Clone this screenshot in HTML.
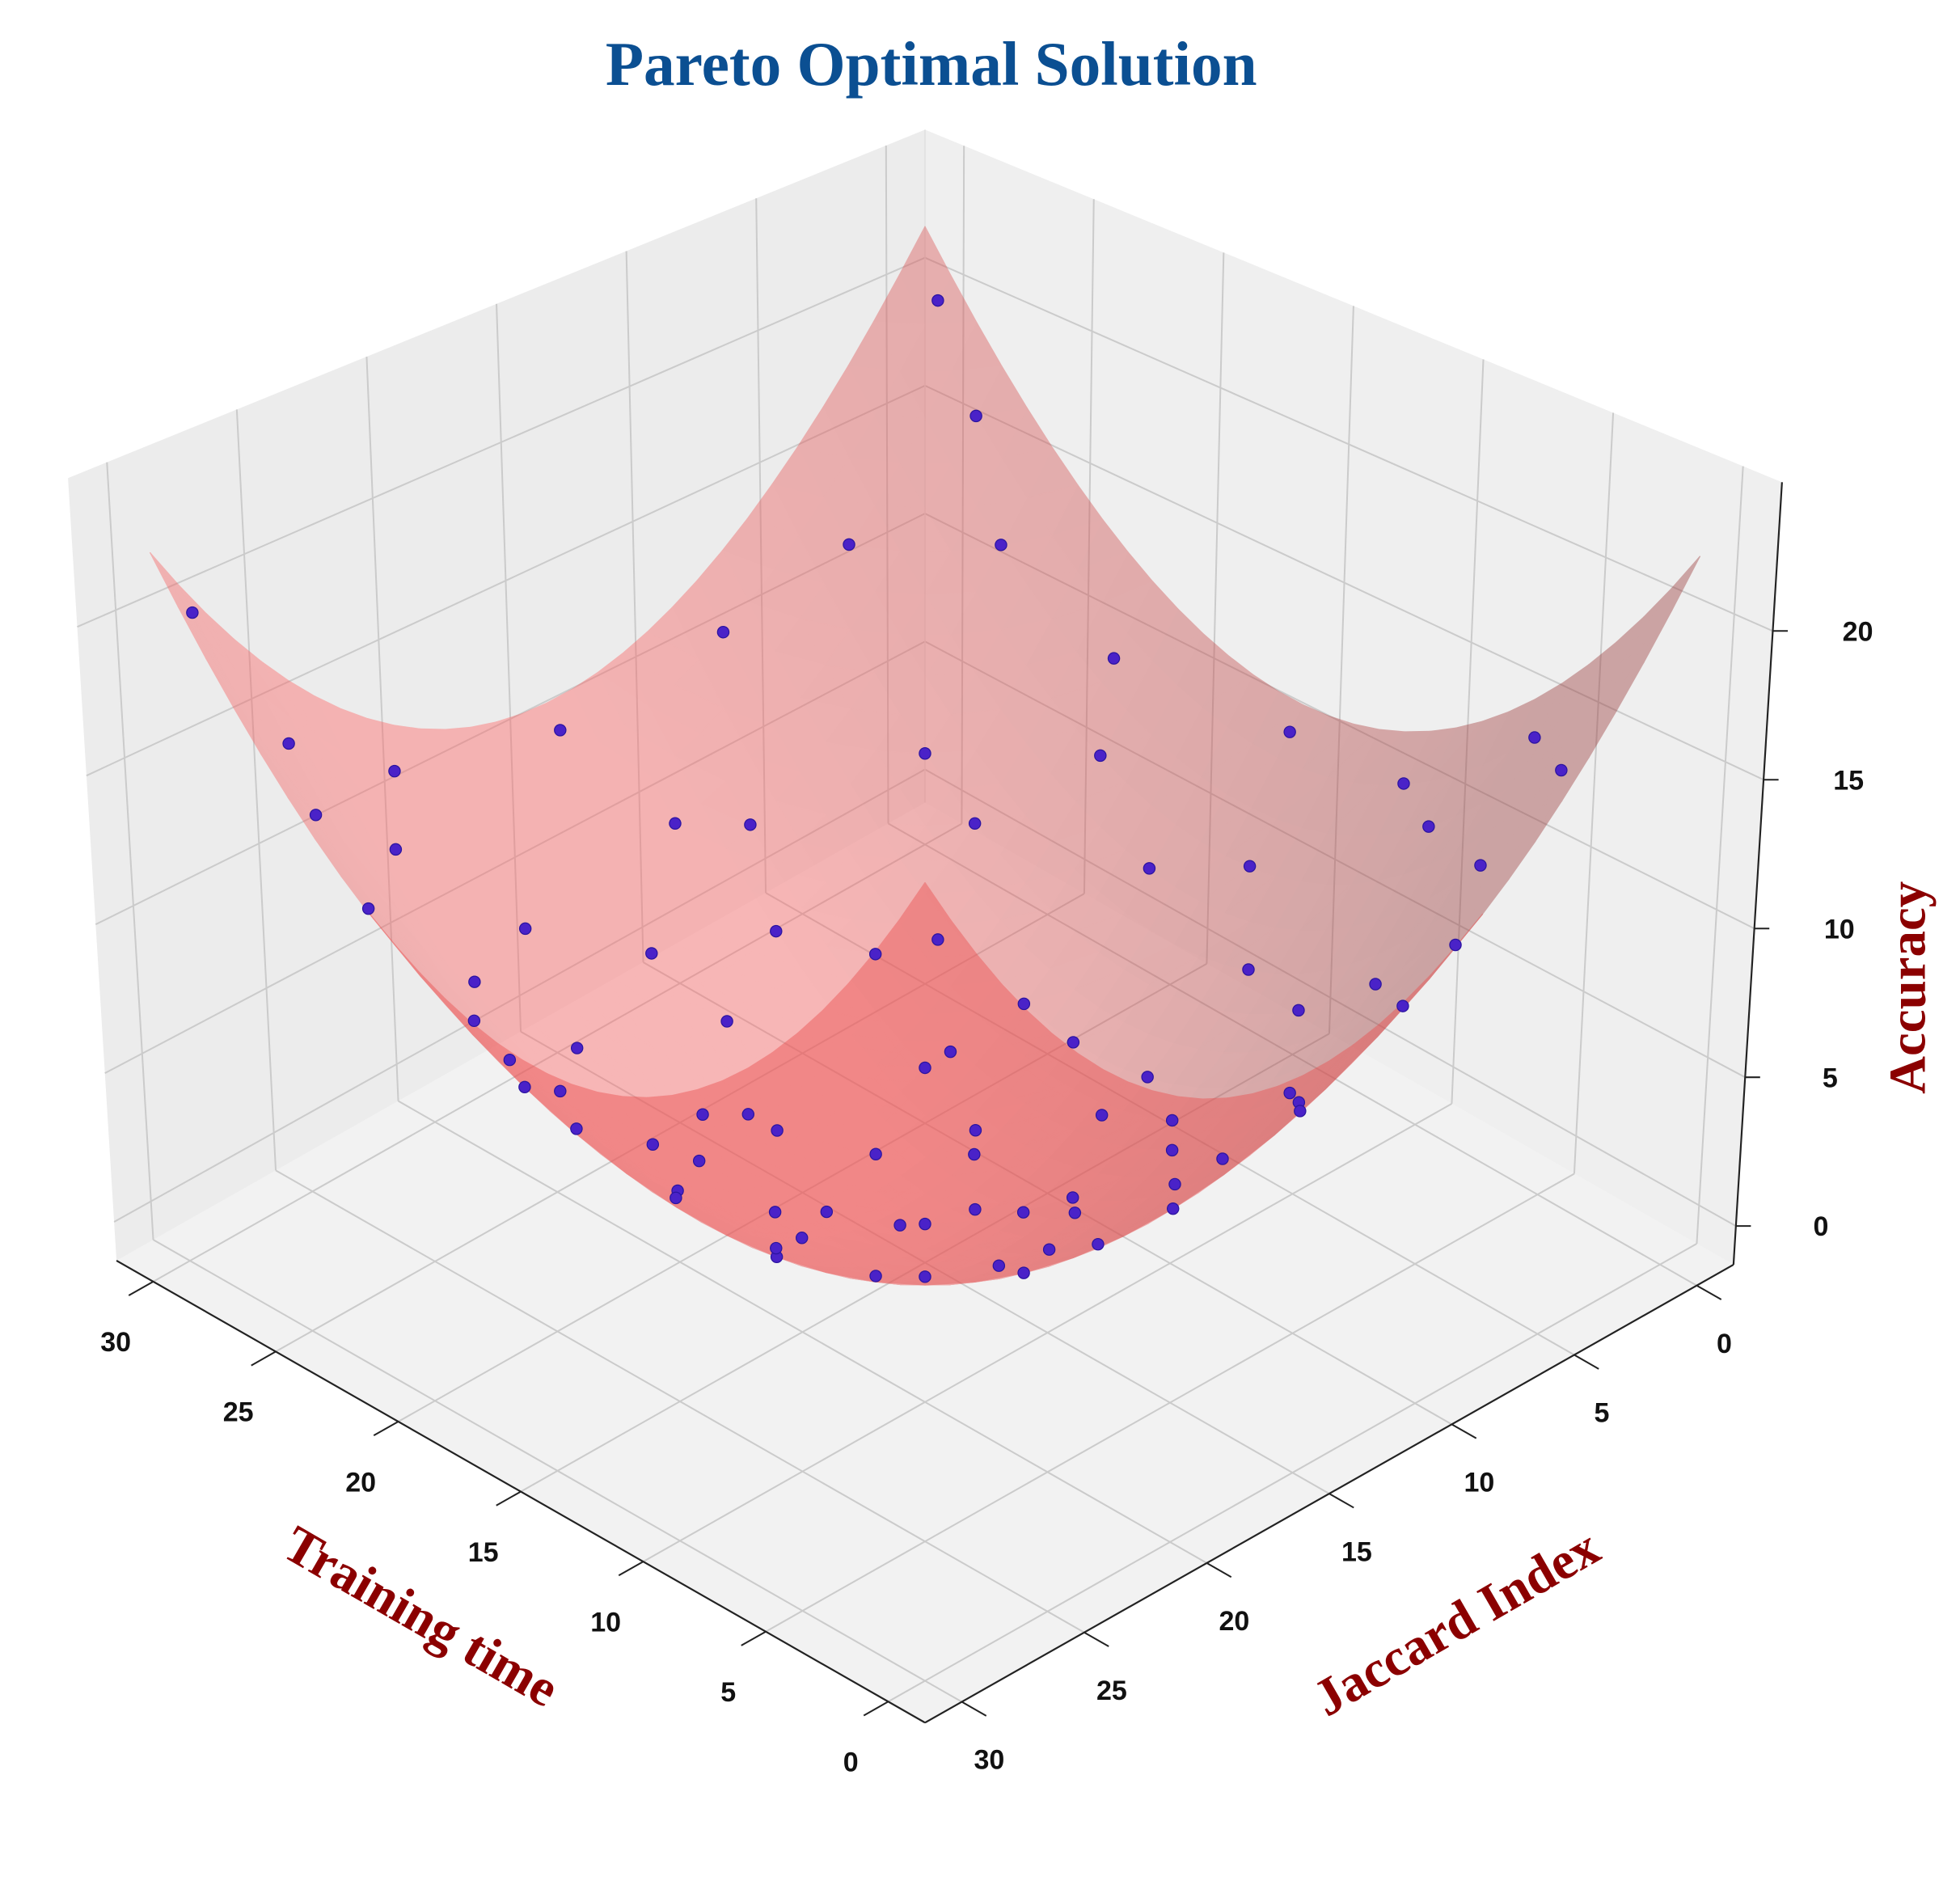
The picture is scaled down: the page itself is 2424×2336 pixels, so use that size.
<!DOCTYPE html>
<html><head><meta charset="utf-8"><style>
html,body{margin:0;padding:0;background:#fff;}
svg{display:block;}
</style></head><body>
<svg id="chart" width="2424" height="2336" viewBox="0 0 1568 1511" xmlns="http://www.w3.org/2000/svg">
<text x="745" y="68" text-anchor="middle" font-family="Liberation Serif, serif" font-weight="bold" font-size="50" fill="#0b4f92">Pareto Optimal Solution</text>
<g id="panes"></g><g id="grid"></g><g id="axes"></g><g id="surf"></g><g id="pts"></g>
<text transform="translate(330,1305) rotate(30)" text-anchor="middle" font-family="Liberation Serif, serif" font-weight="bold" font-size="42" fill="#8b0000">Training time</text>
<text transform="translate(1172,1310) rotate(-30)" text-anchor="middle" font-family="Liberation Serif, serif" font-weight="bold" font-size="42" fill="#8b0000">Jaccard Index</text>
<text transform="translate(1540,790) rotate(-90)" text-anchor="middle" font-family="Liberation Serif, serif" font-weight="bold" font-size="42" fill="#8b0000">Accuracy</text>
</svg>
<script>
const xTicks=[0,5,10,15,20,25,30];
const yTicks=[0,5,10,15,20,25,30];
const zTicks=[0,5,10,15,20];
const ptX=[2,5,1,3,6,8,10,12,4,2,7,9,11,14,15,16,18,20,22,25,28,27,29,0.5,29.5,28,24,26,21,19,23,17,13,18,12,6,3,1,0.5,15,15,29.5,10,8,5,20,23,26,29,24,21,17,13,9,4,7,11,14,18,22,27,25,19,16,12,6,2,10,27,23,16,8,13,17,20,5,26,29,22,3,14,9,24,11,19];
const ptY=[3,1,8,12,6,2,10,5,20,27,24,17,28,22,15,12,8,3,10,2,5,1,0.5,29,29,27,24,20,18,25,29,29.5,19,14,12,14,17,22,15,0.5,29.5,15,26,29,23,21,15,11,9,6,1.5,4,8,6,4,11,16,26,22,26,24,16,11,19,24,19,9,1,13,21,8,15,13,17,16,10,28,22,6,25,3,21,12,9,27];
const ptZ=[15.7,14.8,12.3,7.7,8.1,10.9,2.5,5.5,7.3,15.7,7.3,2.0,9.3,2.5,0,0.5,2.9,8.5,3.7,13.5,13.5,17,20.3,20.3,20.3,15.7,8.1,7.3,2.3,5.8,13,10.7,1,0.5,0.9,4.1,7.4,12.3,10.5,10.5,10.5,10.5,7.3,12.3,8.2,3.1,3.2,6.9,11.6,8.1,10.9,6.3,2.7,5.9,12.1,4,0.9,6.1,2.9,8.5,11.3,5.1,1.6,0.9,4.5,4.9,10.3,11.1,7.4,5,2.5,2.5,0.4,0.4,1.3,6.3,14.5,12.3,6.5,12.2,7.3,3.6,4.5,2.6,8];
const XMIN=-1.5,XMAX=31.5,YMIN=-1.5,YMAX=31.5,ZMIN=-1.3,ZMAX=25;
const NS='http://www.w3.org/2000/svg';
const C0=[740,1010],EX=[-19.6,-11.2],EY=[-19.6,11.1],ZU=23.8;
function P(x,y,z){
  const fx=C0[0]+EX[0]*(x-15)+EY[0]*(y-15);
  const fy=C0[1]+EX[1]*(x-15)+EY[1]*(y-15);
  const s=1+0.14*(y-x)/33;
  const h=(z-ZMIN)*ZU*s;
  const sp=1+0.06*(z-ZMIN)/(ZMAX-ZMIN);
  return [740+(fx-740)*sp, fy-h];
}
function el(tag,attrs,parent){const e=document.createElementNS(NS,tag);for(const k in attrs)e.setAttribute(k,attrs[k]);parent.appendChild(e);return e;}
function poly(pts){return pts.map(p=>p[0].toFixed(1)+','+p[1].toFixed(1)).join(' ');}
const panes=document.getElementById('panes'),grid=document.getElementById('grid'),axes=document.getElementById('axes');
let e;
e=el('polygon',{points:poly([P(XMIN,YMIN,ZMIN),P(XMAX,YMIN,ZMIN),P(XMAX,YMAX,ZMIN),P(XMIN,YMAX,ZMIN)]),fill:'#f2f2f2',stroke:'none'},panes);


e=el('polygon',{points:poly([P(XMAX,YMIN,ZMIN),P(XMAX,YMAX,ZMIN),P(XMAX,YMAX,ZMAX),P(XMAX,YMIN,ZMAX)]),fill:'#ececec',stroke:'none'},panes);


e=el('polygon',{points:poly([P(XMIN,YMIN,ZMIN),P(XMAX,YMIN,ZMIN),P(XMAX,YMIN,ZMAX),P(XMIN,YMIN,ZMAX)]),fill:'#efefef',stroke:'none'},panes);


function line(a,b,parent,col,w,name){const l=el('line',{x1:a[0],y1:a[1],x2:b[0],y2:b[1],stroke:col,'stroke-width':w},parent);return l;}
const GC='#cbcbcb';
xTicks.forEach(t=>{line(P(t,YMIN,ZMIN),P(t,YMAX,ZMIN),grid,GC,1.3,'grid-line');line(P(t,YMIN,ZMIN),P(t,YMIN,ZMAX),grid,GC,1.3,'grid-line');});
yTicks.forEach(t=>{line(P(XMIN,t,ZMIN),P(XMAX,t,ZMIN),grid,GC,1.3,'grid-line');line(P(XMAX,t,ZMIN),P(XMAX,t,ZMAX),grid,GC,1.3,'grid-line');});
zTicks.forEach(t=>{line(P(XMAX,YMIN,t),P(XMAX,YMAX,t),grid,GC,1.3,'grid-line');line(P(XMIN,YMIN,t),P(XMAX,YMIN,t),grid,GC,1.3,'grid-line');});
line(P(XMAX,YMIN,ZMIN),P(XMAX,YMIN,ZMAX),grid,'#e0e0e0',1,'pane-edge');
line(P(XMAX,YMAX,ZMIN),P(XMIN,YMAX,ZMIN),axes,'#222',1.4,'x-axis-line');
line(P(XMIN,YMIN,ZMIN),P(XMIN,YMAX,ZMIN),axes,'#222',1.4,'y-axis-line');
line(P(XMIN,YMIN,ZMIN),P(XMIN,YMIN,ZMAX),axes,'#222',1.4,'z-axis-line');
function txt(s,p,name,anchor){const t=el('text',{x:p[0],y:p[1],'text-anchor':anchor||'middle','dominant-baseline':'middle','font-family':'Liberation Sans, sans-serif','font-weight':'bold','font-size':22,fill:'#111'},axes);t.textContent=s;}
xTicks.forEach(t=>{const a=P(t,YMAX,ZMIN),b=P(t,YMAX+1,ZMIN);line(a,b,axes,'#222',1.3,'x-tick');txt(String(t),[a[0]-30,a[1]+50],'x-tick-label');});
yTicks.forEach(t=>{const a=P(XMIN,t,ZMIN),b=P(XMIN-1,t,ZMIN);line(a,b,axes,'#222',1.3,'y-tick');txt(String(t),[a[0]+22,a[1]+48],'y-tick-label');});
zTicks.forEach(t=>{const a=P(XMIN,YMIN,t);line(a,[a[0]+12,a[1]],axes,'#222',1.3,'z-tick');txt(String(t),[a[0]+68,a[1]+2],'z-tick-label');});
// surface
function f(x,y){return ((x-15)*(x-15)+(y-15)*(y-15))/20;}
const surf=document.getElementById('surf');
const gBack=el('g',{opacity:0.42},surf);
const gFront=el('g',{opacity:0.45},surf);
const tris=[];const N=30;
const L=[-0.55,-0.2,0.8];const ll=Math.hypot(...L);
function addTri(a,b,c){
  const cx=(a[0]+b[0]+c[0])/3,cy=(a[1]+b[1]+c[1])/3;
  const dzx=(cx-15)/10,dzy=(cy-15)/10;
  const nl=Math.hypot(dzx,dzy,1);
  const d=(-dzx*L[0]-dzy*L[1]+L[2])/(nl*ll);
  const k=Math.min(1,0.5+0.55*Math.max(0,d));
  const back=(cy-cx)>8;
  const col=back?'rgb(235,80,80)':'rgb('+Math.round(200*k+55)+','+Math.round(80*k+20)+','+Math.round(80*k+20)+')';
  tris.push({back:back,pts:[P(a[0],a[1],f(a[0],a[1])),P(b[0],b[1],f(b[0],b[1])),P(c[0],c[1],f(c[0],c[1]))],col:col});
}
for(let i=0;i<N;i++)for(let j=0;j<N;j++){
  addTri([i,j],[i+1,j],[i+1,j+1]);
  addTri([i,j],[i+1,j+1],[i,j+1]);
}
tris.forEach(q=>{const g=q.back?gFront:gBack;const p=el('polygon',{points:poly(q.pts),fill:q.col,stroke:q.col,'stroke-width':0.8,'stroke-linejoin':'round'},g);});
// points
const pts=document.getElementById('pts');
const order=ptX.map((_,i)=>i).sort((a,b)=>(ptY[a]-ptX[a])-(ptY[b]-ptX[b]));
order.forEach(i=>{const p=P(ptX[i],ptY[i],ptZ[i]);const c=el('circle',{cx:p[0],cy:p[1],r:4.6,fill:'#4a22c8',stroke:'#2b14a0','stroke-width':0.8},pts);

});
</script>
</body></html>
